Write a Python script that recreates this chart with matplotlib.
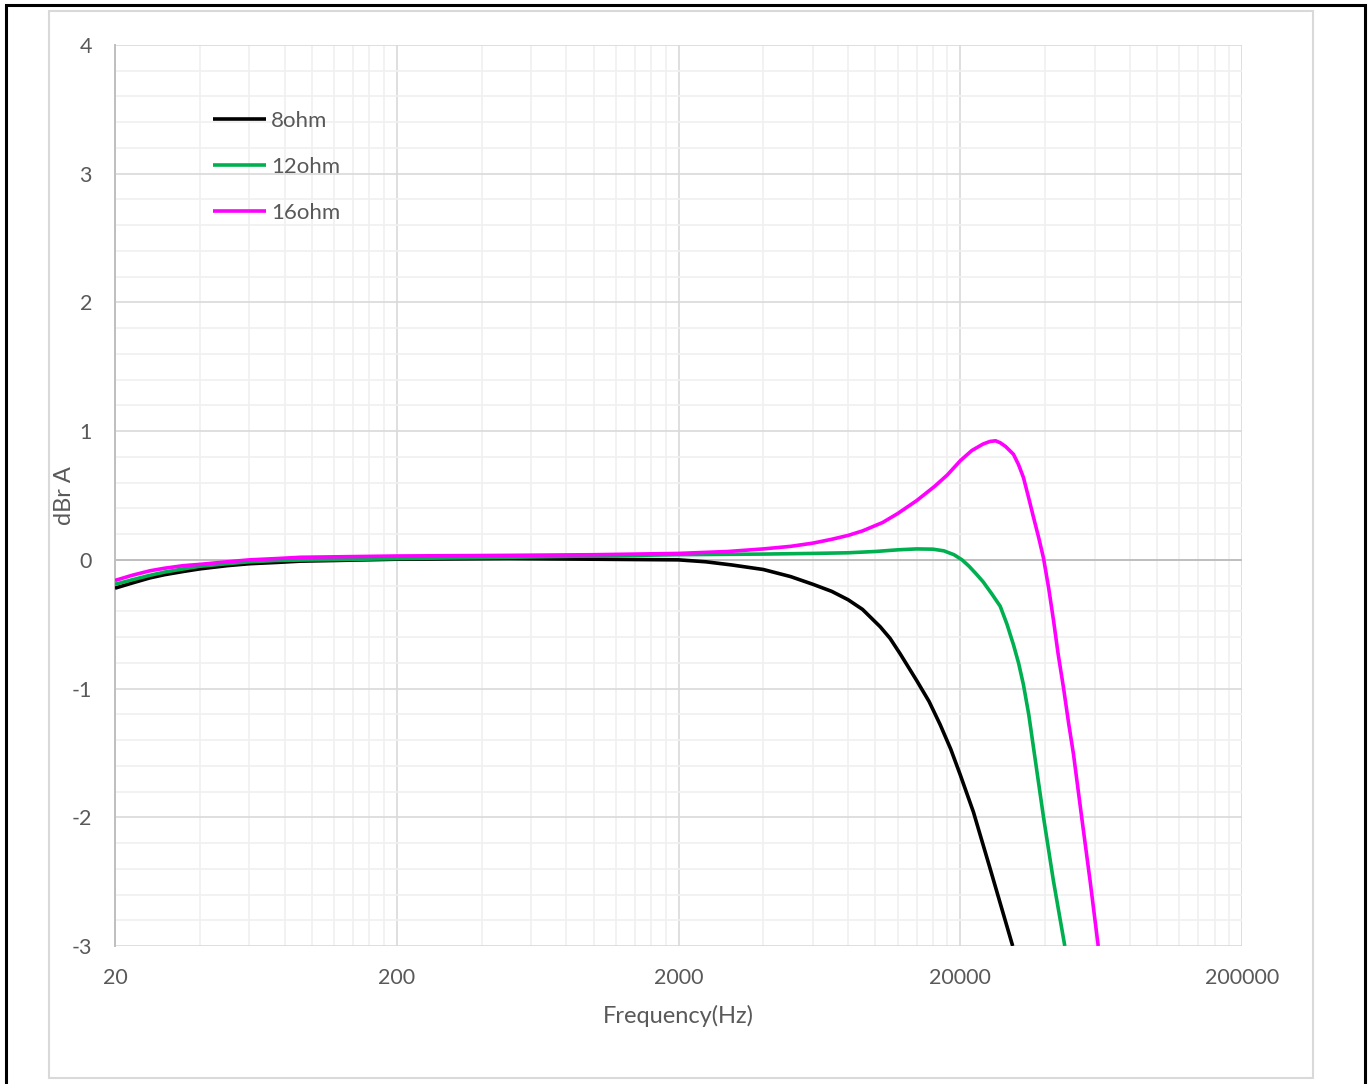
import matplotlib
matplotlib.use("Agg")
import matplotlib.pyplot as plt
from matplotlib.patches import Rectangle
from matplotlib.ticker import FixedLocator, NullFormatter

# 8 ohm load
f_8 = [20, 23, 26.6, 30, 35, 40, 50, 60, 75, 91, 120, 200, 500, 1000, 2000,
       2500, 3100, 4000, 5000, 6000, 7000, 8000, 9000, 10400, 11270, 12240,
       14030, 15500, 16970, 18500, 20000, 22280, 25540, 28000, 30700]
db_8 = [-0.22, -0.18, -0.14, -0.115, -0.09, -0.07, -0.045, -0.03, -0.02,
        -0.01, -0.005, 0.005, 0.01, 0.005, 0.0, -0.015, -0.04, -0.075, -0.13,
        -0.19, -0.245, -0.31, -0.385, -0.52, -0.61, -0.73, -0.94, -1.1, -1.28,
        -1.47, -1.67, -1.96, -2.40, -2.70, -3.0]

# 12 ohm load
f_12 = [20, 23, 26.6, 30, 35, 40, 50, 60, 75, 100, 150, 200, 500, 1000, 2000,
        4000, 6000, 8000, 10000, 12000, 14000, 16000, 17500, 19000, 20300,
        21500, 22800, 24100, 25800, 27720, 29300, 30900, 32200, 33520, 35000,
        36400, 39500, 42800, 47000]
db_12 = [-0.19, -0.155, -0.12, -0.095, -0.07, -0.05, -0.03, -0.015, -0.005,
         0.0, 0.005, 0.01, 0.02, 0.03, 0.04, 0.045, 0.05, 0.055, 0.065, 0.078,
         0.085, 0.083, 0.07, 0.04, 0.0, -0.05, -0.11, -0.17, -0.26, -0.36,
         -0.5, -0.66, -0.8, -0.97, -1.2, -1.46, -2.0, -2.49, -3.0]

# 16 ohm load
f_16 = [20, 23, 26.6, 30, 35, 40, 50, 60, 75, 91, 200, 500, 1000, 2000, 3000,
        4000, 5000, 6000, 7000, 8000, 9000, 10600, 12000, 14000, 16200, 18000,
        20000, 22000, 24100, 25500, 26700, 27720, 29000, 30900, 32200, 33520,
        35000, 36400, 38000, 39500, 41200, 42860, 44500, 46480, 48500, 50460,
        53960, 57840, 61760]
db_16 = [-0.16, -0.12, -0.085, -0.065, -0.045, -0.035, -0.015, 0.0, 0.01,
         0.02, 0.03, 0.035, 0.04, 0.05, 0.065, 0.085, 0.105, 0.13, 0.16, 0.19,
         0.225, 0.29, 0.36, 0.46, 0.57, 0.66, 0.77, 0.85, 0.90, 0.92, 0.925,
         0.91, 0.88, 0.82, 0.74, 0.64, 0.48, 0.33, 0.17, 0.013, -0.22, -0.47,
         -0.73, -0.99, -1.27, -1.51, -2.0, -2.5, -3.0]

series = [("8ohm", f_8, db_8, "#000000"),
          ("12ohm", f_12, db_12, "#00b050"),
          ("16ohm", f_16, db_16, "#ff00ff")]

x_ticks = [20, 200, 2000, 20000, 200000]
x_minor = [m * 10 ** k for k in range(0, 5) for m in (40, 60, 80, 100, 120, 140, 160, 180)]
y_ticks = [-3, -2, -1, 0, 1, 2, 3, 4]

plt.rcParams["font.family"] = ["Lato", "DejaVu Sans"]
txt = "#595959"

fig = plt.figure(figsize=(13.7, 10.84), dpi=100)
W, H = 1370, 1084
ax = fig.add_axes([115 / W, 1 - 946 / H, (1242 - 115) / W, (946 - 45) / H])

# chart frames (outer black, inner light grey)
fig.patches.append(Rectangle((6 / W, -0.01), (1365 - 6) / W, 1 - 5 / H + 0.01,
                             transform=fig.transFigure, fill=False,
                             edgecolor="black", linewidth=2.2, zorder=0))
fig.patches.append(Rectangle((49 / W, 1 - 1078 / H), (1313 - 49) / W, (1078 - 11) / H,
                             transform=fig.transFigure, fill=False,
                             edgecolor="#d9d9d9", linewidth=1.5, zorder=0))

for name, f, db, col in series:
    ax.plot(f, db, color=col, linewidth=2.6, label=name, zorder=3,
            solid_joinstyle="round", solid_capstyle="butt")

ax.set_xscale("log")
ax.set_xlim(20, 200000)
ax.set_ylim(-3, 4)

ax.xaxis.set_major_locator(FixedLocator(x_ticks))
ax.xaxis.set_minor_locator(FixedLocator([v for v in x_minor if v not in x_ticks]))
ax.xaxis.set_minor_formatter(NullFormatter())
ax.set_xticks(x_ticks)
ax.set_xticklabels([str(v) for v in x_ticks])
ax.set_yticks(y_ticks)
ax.set_yticks([v / 5 for v in range(-15, 21) if v % 5 != 0], minor=True)
ax.set_yticklabels([str(v) for v in y_ticks])

ax.grid(True, which="major", color="#d9d9d9", linewidth=1.2, zorder=1)
ax.grid(True, which="minor", color="#f0f0f0", linewidth=1.2, zorder=0)
ax.axhline(0, color="#bfbfbf", linewidth=1.4, zorder=2)
ax.set_axisbelow(True)

for s in ("top", "right", "bottom"):
    ax.spines[s].set_visible(False)
ax.spines["left"].set_color("#bfbfbf")
ax.spines["left"].set_linewidth(1.4)

ax.tick_params(axis="both", which="both", length=0, labelsize=15.5, colors=txt)
ax.tick_params(axis="x", pad=16)
ax.tick_params(axis="y", pad=16.5)

ax.set_xlabel("Frequency(Hz)", fontsize=17, color=txt, labelpad=12)
ax.set_ylabel("dBr A", fontsize=17, color=txt)
ax.yaxis.set_label_coords((75 - 115) / 1127, 0.5)

ax.legend(loc="upper left", bbox_to_anchor=((213 - 115) / 1127, (946 - 111) / 901),
          frameon=False, fontsize=16, handlelength=2.39, handletextpad=0.22,
          labelspacing=1.16, borderpad=0, borderaxespad=0, labelcolor=txt)

fig.savefig("out.png", dpi=100)
plt.close(fig)
